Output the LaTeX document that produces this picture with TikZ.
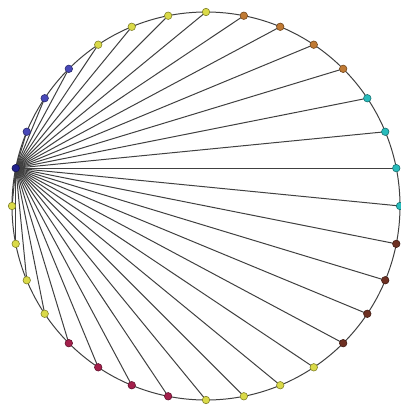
\documentclass[tikz,border=0pt]{standalone}
\usetikzlibrary{backgrounds}
\definecolor{grp0}{HTML}{4848B8}
\definecolor{grp1}{HTML}{DADA48}
\definecolor{grp2}{HTML}{C07A34}
\definecolor{grp3}{HTML}{28BCBC}
\definecolor{grp4}{HTML}{6E3022}
\definecolor{grp5}{HTML}{DADA48}
\definecolor{grp6}{HTML}{A4204C}
\definecolor{grp7}{HTML}{DADA48}
\definecolor{hubcol}{HTML}{22228C}
\definecolor{edgecol}{HTML}{404040}
\tikzset{
  vert/.style={circle, minimum size=7.5pt, inner sep=0pt, line width=0.6pt},
  edge/.style={draw=edgecol, line width=1pt}
}
\begin{document}
\begin{tikzpicture}[x=1pt,y=1pt]
\useasboundingbox (0,0) rectangle (400,-405);
\coordinate (c) at (206,-206);
\node[vert, fill=hubcol, draw=hubcol!60!black] (n0) at ({206+194*cos(168.75)},{-206+194*sin(168.75)}) {};
\foreach \i in {1,...,31} {
  \pgfmathtruncatemacro{\g}{floor(\i/4)}
  \pgfmathsetmacro{\a}{168.75-11.25*\i}
  \node[vert, fill=grp\g, draw=grp\g!60!black] (n\i) at ({206+194*cos(\a)},{-206+194*sin(\a)}) {};
}
\begin{scope}[on background layer]
  \draw[edge] (c) circle (194);
  \foreach \i in {1,...,31} {
    \draw[edge] (n0.center) -- (n\i.center);
  }
\end{scope}
\end{tikzpicture}
\end{document}
